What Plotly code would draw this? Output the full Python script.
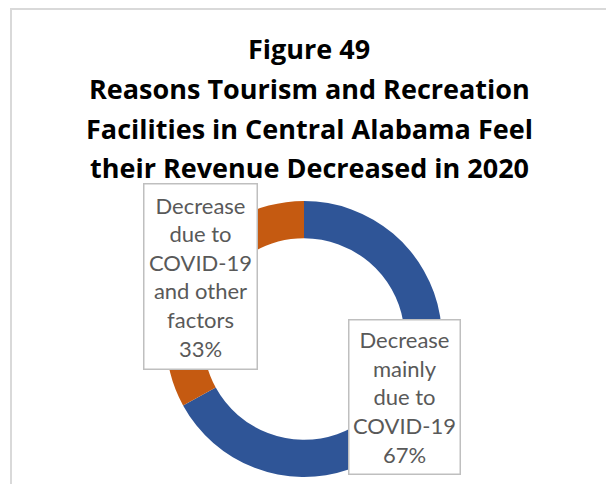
import plotly.graph_objects as go

# Survey shares (percent)
categories = ["Decrease mainly<br>due to<br>COVID-19", "Decrease<br>due to<br>COVID-19<br>and other<br>factors"]
box_titles = ["Decrease<br>mainly<br>due to<br>COVID-19", "Decrease<br>due to<br>COVID-19<br>and other<br>factors"]
shares = [67, 33]
colors = ["#2F5597", "#C55A11"]
title_lines = [
    "Figure 49",
    "Reasons Tourism and Recreation",
    "Facilities in Central Alabama Feel",
    "their Revenue Decreased in 2020",
]

W, H = 606, 484


def px(x):
    return x / W


def py(y):
    return 1 - y / H


fig = go.Figure()
fig.add_trace(go.Pie(
    labels=categories,
    values=shares,
    hole=0.73,
    sort=False,
    direction="clockwise",
    rotation=0,
    marker=dict(colors=colors, line=dict(width=0)),
    textinfo="none",
    hoverinfo="label+percent",
    showlegend=False,
    domain=dict(x=[px(166), px(442)], y=[py(477), py(201)]),
))

label_font = "Lato, 'Open Sans', sans-serif"
title_font = "'Open Sans', 'Noto Sans', sans-serif"

annotations = []
# Title, one annotation per line
centers = [48, 88, 128, 167]
for line, yc in zip(title_lines, centers):
    annotations.append(dict(
        text=f"<b>{line}</b>", x=px(309), y=py(yc), xref="paper", yref="paper",
        showarrow=False, xanchor="center", yanchor="middle",
        font=dict(family=title_font, size=27, color="#000000"),
    ))

# Data label boxes
boxes = [
    dict(cx=404, cy=398.5, w=112, h=155),  # blue slice
    dict(cx=200, cy=278, w=114, h=186),    # orange slice
]
for name, val, b in zip(box_titles, shares, boxes):
    annotations.append(dict(
        text=f"{name}<br>{val}%", x=px(b["cx"]), y=py(b["cy"] - 2),
        xref="paper", yref="paper", showarrow=False,
        xanchor="center", yanchor="middle",
        width=b["w"] - 4, height=b["h"] - 4, borderpad=1,
        bgcolor="#FFFFFF", bordercolor="#BFBFBF", borderwidth=1.5,
        font=dict(family=label_font, size=22, color="#595959"),
    ))

fig.update_layout(
    width=W, height=H,
    margin=dict(l=0, r=0, t=0, b=0),
    paper_bgcolor="#FFFFFF",
    plot_bgcolor="#FFFFFF",
    annotations=annotations,
    shapes=[dict(
        type="rect", xref="paper", yref="paper",
        x0=px(11), x1=px(640), y0=py(520), y1=py(9),
        line=dict(color="#D9D9D9", width=2), layer="below",
    )],
)

fig.write_html("out.html")
